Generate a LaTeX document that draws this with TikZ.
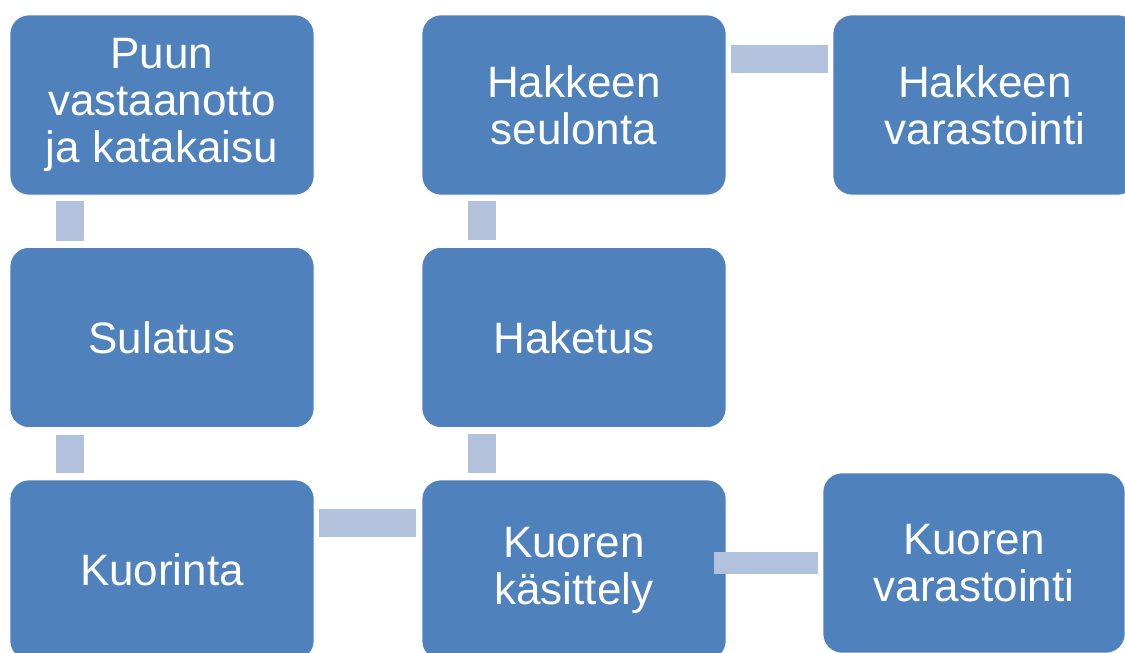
\documentclass[tikz,border=0pt]{standalone}
\usepackage{fontspec}
\setmainfont{Liberation Sans}
\definecolor{boxblue}{HTML}{4F81BD}
\definecolor{connblue}{HTML}{B2C1DC}
\begin{document}
\begin{tikzpicture}[x=1pt,y=-1pt,
  stage/.style={rectangle, rounded corners=19pt, fill=boxblue, draw=white, line width=0.6pt,
    minimum width=304pt, minimum height=180pt, text=white, align=center,
    font=\fontsize{44pt}{47pt}\selectfont, inner sep=0pt},
  conn/.style={draw=connblue, line width=28pt, line cap=butt}]
\useasboundingbox (0,0) rectangle (1125,653);
\clip (0,0) rectangle (1125,653);
\fill[white] (0,0) rectangle (1125,653);
\node[stage] (p1) at (162,105) {Puun\\vastaanotto\\ja katakaisu};
\node[stage] (p2) at (162,337.5) {Sulatus};
\node[stage] (p3) at (162,570) {Kuorinta};
\node[stage] (s1) at (574,105) {Hakkeen\\seulonta};
\node[stage] (s2) at (574,337.5) {Haketus};
\node[stage] (s3) at (574,570) {Kuoren\\käsittely};
\node[stage] (hv) at (985,105) {Hakkeen\\varastointi};
\node[stage, minimum width=302pt] (kv) at (974,563) {Kuoren\\varastointi};
% connectors
\draw[conn] ([xshift=-92pt,yshift=-6pt]p1.south) -- ([xshift=-92pt,yshift=6pt]p2.north);
\draw[conn] ([xshift=-92pt,yshift=-7pt]p2.south) -- ([xshift=-92pt,yshift=7pt]p3.north);
\draw[conn] ([xshift=5pt,yshift=47pt]p3.east) -- ([xshift=-6pt,yshift=47pt]s3.west);
\draw[conn] ([xshift=-92pt,yshift=7pt]s3.north) -- ([xshift=-92pt,yshift=-6pt]s2.south);
\draw[conn] ([xshift=-92pt,yshift=7pt]s2.north) -- ([xshift=-92pt,yshift=-6pt]s1.south);
\draw[conn] ([xshift=5pt,yshift=46pt]s1.east) -- ([xshift=-5pt,yshift=46pt]hv.west);
\draw[conn, line width=22pt] ([xshift=-12pt,yshift=7pt]s3.east) -- ([xshift=-5pt,yshift=0pt]kv.west);
\end{tikzpicture}
\end{document}
